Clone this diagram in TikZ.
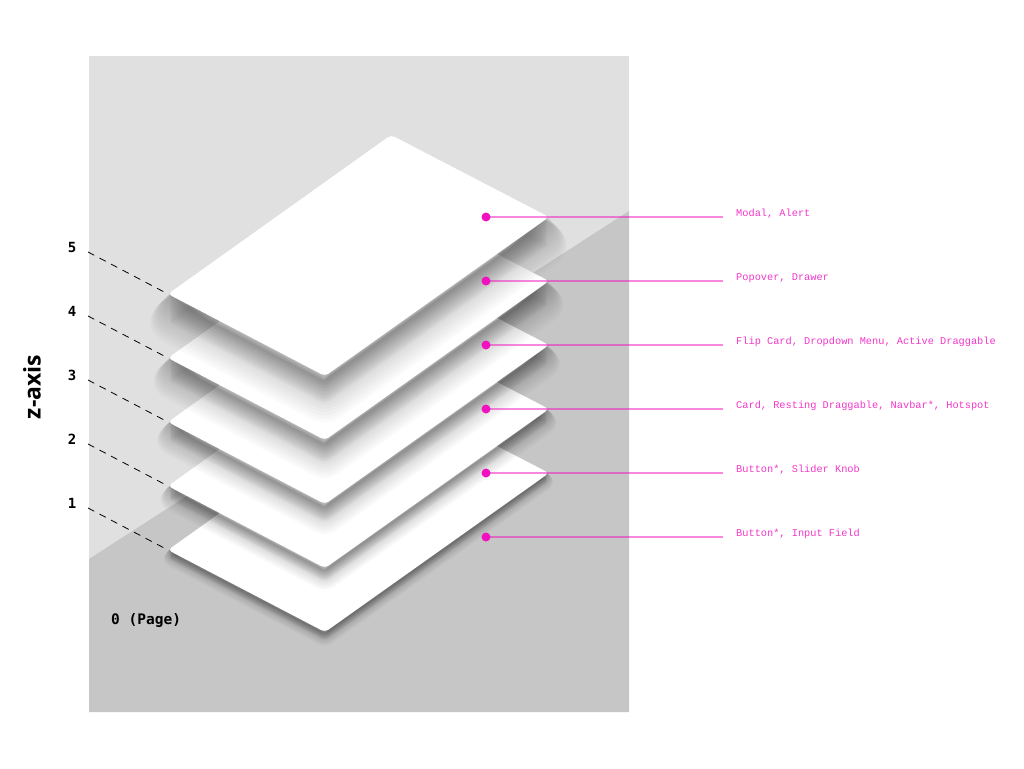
\documentclass[tikz,border=0pt]{standalone}
\usepackage{fontspec}
\setmainfont{Open Sans}
\newfontfamily\labfont{Liberation Mono}
\newfontfamily\numfont{DejaVu Sans Mono}
\newfontfamily\zfont{Open Sans}
\definecolor{pagelight}{HTML}{E0E0E0}
\definecolor{pagedark}{HTML}{C6C6C6}
\definecolor{mag}{HTML}{F012BE}
\tikzset{
  layerbox/.style={fill=white, rounded corners=4pt},
  shadowcopy/.style={fill=black, draw=black, opacity=0.02, line join=round, rounded corners=4pt},
  guide/.style={draw=black, line width=0.8pt, dash pattern=on 7pt off 6pt},
  num/.style={font=\numfont\bfseries\fontsize{14}{14}\selectfont, inner sep=0pt},
  leader/.style={draw=mag, opacity=0.5, line width=1.3pt},
  dotmark/.style={fill=mag},
  lab/.style={font=\labfont\fontsize{10.3}{12}\selectfont, text=mag!85, anchor=base west, inner sep=0pt},
}
\begin{document}
\begin{tikzpicture}[x=1pt,y=-1pt]
\useasboundingbox (0,0) rectangle (1024,768);
% page
\fill[pagelight] (89,56) rectangle (629,712);
\fill[pagedark] (89,559) -- (629,211) -- (629,712) -- (89,712) -- cycle;
% layers
\foreach \k in {1,...,5} {
  \pgfmathsetmacro\dy{(5-\k)*64}
  \pgfmathsetmacro\ss{(0.6*\k+0.5)*8/14}
  \begin{scope}
    \clip (89,56) rectangle (629,712);
    \foreach \i in {1,...,14} {
      \pgfmathsetmacro\sd{\dy+\i*\ss}
      \pgfmathsetmacro\lw{1.4*\i*\ss}
      \filldraw[shadowcopy, line width=\lw pt] (391,135+\sd) -- (549,217+\sd) -- (325,376+\sd) -- (168,294+\sd) -- cycle;
    }
  \end{scope}
  \fill[layerbox] (391,135+\dy) -- (549,217+\dy) -- (325,376+\dy) -- (168,294+\dy) -- cycle;
  \coordinate (L\k) at (168,294+\dy);
  \coordinate (S\k) at (88,252+\dy);
  \node[num] (n\k) at (72,247+\dy) {\k};
  \draw[guide] (S\k) -- (L\k);
}
% dots and labels
\foreach \j/\txt in {5/{Modal, Alert}, 4/{Popover, Drawer}, 3/{Flip Card, Dropdown Menu, Active Draggable}, 2/{Card, Resting Draggable, Navbar*, Hotspot}, 1/{Button*, Slider Knob}, 0/{Button*, Input Field}} {
  \pgfmathsetmacro\yy{537-\j*64}
  \coordinate (d\j) at (486,\yy);
  \coordinate (e\j) at (723,\yy);
  \draw[leader] (d\j) -- (e\j);
  \fill[dotmark] (d\j) circle (4.5pt);
  \node[lab] (t\j) at (736,\yy-1) {\txt};
}
\node[font=\numfont\bfseries\fontsize{14.5}{14.5}\selectfont, anchor=west, inner sep=0pt] (page) at (111,620) {0 (Page)};
\node[rotate=90, font=\zfont\bfseries\fontsize{23}{23}\selectfont, inner sep=0pt] (zax) at (32,387) {z-axis};
\end{tikzpicture}
\end{document}
